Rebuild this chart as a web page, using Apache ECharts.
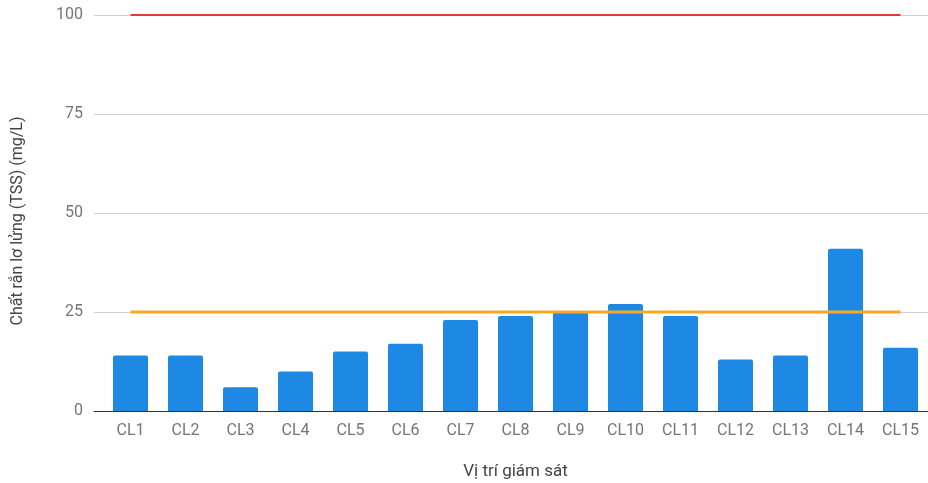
<!DOCTYPE html>
<html>
<head>
<meta charset="utf-8">
<script src="https://cdn.jsdelivr.net/npm/echarts@6/dist/echarts.min.js"></script>
<style>html,body{margin:0;padding:0;background:#fff}#c{width:928px;height:483px}</style>
</head>
<body>
<div id="c"></div>
<script>
const categories = ['CL1','CL2','CL3','CL4','CL5','CL6','CL7','CL8','CL9','CL10','CL11','CL12','CL13','CL14','CL15'];
const tssValues = [14, 14, 6, 10, 15, 17, 23, 24, 25, 27, 24, 13, 14, 41, 16];
const limitA = 100;
const limitB = 25;
const yTicks = [0, 25, 50, 75, 100];

const chart = echarts.init(document.getElementById('c'));
const font = 'Roboto, sans-serif';
chart.setOption({
  animation: false,
  grid: [
    {left: 94, right: 0, top: 15, bottom: 72, containLabel: false, outerBoundsMode: 'none'},
    {left: 103, right: 0, top: 15, bottom: 72, containLabel: false, outerBoundsMode: 'none'}
  ],
  xAxis: [
    {gridIndex: 0, type: 'value', min: 0, max: 1, show: true,
     axisLine: {show: true, onZero: false, lineStyle: {color: '#333', width: 1}},
     axisTick: {show: false}, axisLabel: {show: false}, splitLine: {show: false}},
    {gridIndex: 1, type: 'category', data: categories,
     axisLine: {show: false}, axisTick: {show: false},
     axisLabel: {color: '#757575', fontSize: 16, fontFamily: font, margin: 12},
     name: 'Vị trí giám sát', nameLocation: 'middle', nameGap: 52,
     nameTextStyle: {color: '#444', fontSize: 17, fontFamily: font}}
  ],
  yAxis: [
    {gridIndex: 0, type: 'value', min: yTicks[0], max: yTicks[yTicks.length-1], interval: 25,
     axisLine: {show: false}, axisTick: {show: false},
     axisLabel: {color: '#757575', fontSize: 16, fontFamily: font, margin: 11},
     splitLine: {lineStyle: {color: '#d0d0d0', width: 1}},
     name: 'Chất rắn lơ lửng (TSS) (mg/L)', nameLocation: 'middle', nameGap: 68,
     nameTextStyle: {color: '#444', fontSize: 16, fontFamily: font, padding: [0, 16, 0, 0]}},
    {gridIndex: 1, type: 'value', min: 0, max: 100, interval: 25, show: false,
     splitLine: {show: false}}
  ],
  series: [
    {type: 'bar', xAxisIndex: 1, yAxisIndex: 1, data: tssValues, barWidth: 35,
     itemStyle: {color: '#1e88e5', borderRadius: [2,2,0,0]}, z: 2},
    {type: 'line', xAxisIndex: 1, yAxisIndex: 1, data: categories.map(() => limitB),
     symbol: 'none', lineStyle: {color: '#f9a825', width: 3}, z: 3},
    {type: 'line', xAxisIndex: 1, yAxisIndex: 1, data: categories.map(() => limitA),
     symbol: 'none', lineStyle: {color: '#e53935', width: 2}, z: 3}
  ]
});
</script>
</body>
</html>
